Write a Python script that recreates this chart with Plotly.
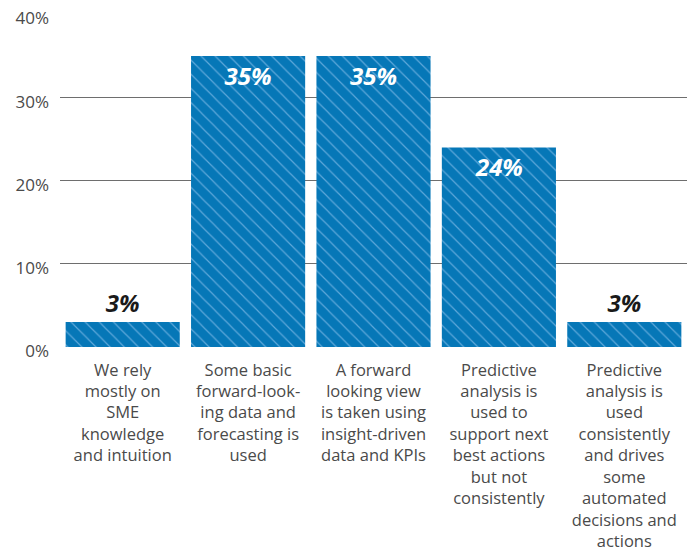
import plotly.graph_objects as go

# Survey results: share of respondents per maturity level
categories = [
    "We rely<br>mostly on<br>SME<br>knowledge<br>and intuition",
    "Some basic<br>forward-look-<br>ing data and<br>forecasting is<br>used",
    "A forward<br>looking view<br>is taken using<br>insight-driven<br>data and KPIs",
    "Predictive<br>analysis is<br>used to<br>support next<br>best actions<br>but not<br>consistently",
    "Predictive<br>analysis is<br>used<br>consistently<br>and drives<br>some<br>automated<br>decisions and<br>actions",
]
values = [3, 35, 35, 24, 3]
y_ticks = [0, 10, 20, 30, 40]
y_tick_labels = ["0%", "10%", "20%", "30%", "40%"]

BLUE = "#0677b7"
STRIPE = "#5ea8da"
TEXT = "#4a4a4a"

positions = ["outside" if v < 10 else "inside" for v in values]

fig = go.Figure(
    go.Bar(
        x=list(range(len(categories))),
        y=values,
        marker=dict(
            color=BLUE,
            line=dict(width=0),
            pattern=dict(shape="\\", fgcolor=STRIPE, bgcolor=BLUE,
                         size=10, solidity=0.12, fillmode="replace"),
        ),
        text=[f"{v}%" for v in values],
        textposition=positions,
        insidetextanchor="end",
        insidetextfont=dict(color="white", size=24,
                            family="Open Sans", weight="bold", style="italic"),
        outsidetextfont=dict(color="#1a1a1a", size=24,
                             family="Open Sans", weight="bold", style="italic"),
        cliponaxis=False,
        hoverinfo="skip",
    )
)

fig.update_layout(
    width=693,
    height=551,
    margin=dict(l=60, r=6, t=14, b=204, autoexpand=False),
    paper_bgcolor="white",
    plot_bgcolor="white",
    bargap=0.09,
    showlegend=False,
    font=dict(family="Open Sans", size=16.5, color=TEXT),
)

fig.update_xaxes(
    range=[-0.5, len(categories) - 0.5],
    tickmode="array",
    tickvals=list(range(len(categories))),
    ticktext=categories,
    showgrid=False,
    zeroline=False,
    showline=False,
    ticks="",
    automargin=False,
    ticklabelstandoff=11,
    tickfont=dict(size=16.5, color=TEXT),
)

fig.update_yaxes(
    range=[0, 40.05],
    tickmode="array",
    tickvals=y_ticks,
    ticktext=y_tick_labels,
    showgrid=True,
    gridcolor="#6e6e6e",
    gridwidth=1,
    zeroline=False,
    showline=False,
    ticks="",
    automargin=False,
    ticklabelstandoff=10,
    ticklabelshift=4,
    tickfont=dict(size=17, color=TEXT),
)

fig.write_html("out.html")
